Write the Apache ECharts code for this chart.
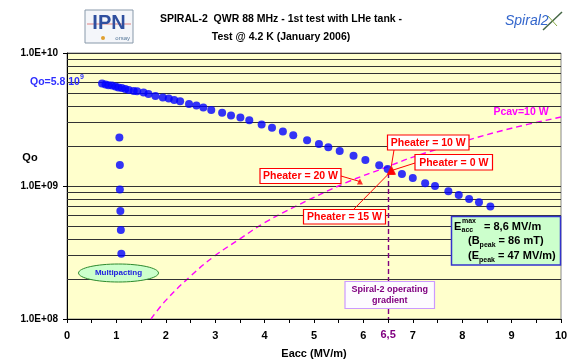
<!DOCTYPE html>
<html>
<head>
<meta charset="utf-8">
<script src="https://cdn.jsdelivr.net/npm/echarts@6/dist/echarts.min.js"></script>
<style>
  html, body { margin: 0; background: #fff; }
  #chart { width: 571px; height: 359px; }
</style>
</head>
<body>
<div id="chart"></div>
<script>
(() => {
  "use strict";

  // Qo vs Eacc, main curve
  const eaccValues = [0.71, 0.78, 0.84, 0.91, 0.98, 1.04, 1.11, 1.18, 1.25, 1.35, 1.42, 1.55, 1.65, 1.79, 1.94,
    2.06, 2.17, 2.29, 2.47, 2.62, 2.76, 2.92, 3.14, 3.32, 3.51, 3.69, 3.94, 4.15, 4.37, 4.58, 4.86, 5.10,
    5.29, 5.52, 5.80, 6.04, 6.32, 6.49, 6.78, 7.00, 7.25, 7.45, 7.72, 7.93, 8.14, 8.34, 8.57];
  const qoValues = [5.89e9, 5.79e9, 5.72e9, 5.69e9, 5.60e9, 5.50e9, 5.46e9, 5.37e9, 5.28e9, 5.19e9, 5.16e9,
    5.05e9, 4.92e9, 4.76e9, 4.63e9, 4.55e9, 4.44e9, 4.34e9, 4.14e9, 4.03e9, 3.90e9, 3.73e9, 3.55e9, 3.39e9,
    3.28e9, 3.12e9, 2.90e9, 2.74e9, 2.57e9, 2.41e9, 2.21e9, 2.07e9, 1.96e9, 1.83e9, 1.69e9, 1.57e9, 1.43e9,
    1.34e9, 1.23e9, 1.15e9, 1.05e9, 1.00e9, 9.14e8, 8.56e8, 7.99e8, 7.56e8, 7.02e8];

  // multipacting barrier points near 1 MV/m
  const multipactEacc = [1.06, 1.07, 1.07, 1.08, 1.09, 1.10];
  const multipactQo = [2.32e9, 1.44e9, 9.4e8, 6.5e8, 4.66e8, 3.1e8];

  // Pcav = 10 W iso-power curve
  const pcavEacc = [1.7, 2, 2.5, 3, 3.5, 4, 4.65, 5.65, 6.5, 7, 8, 9, 10];
  const pcavQo = [1.0e8, 1.38e8, 2.1e8, 3.0e8, 4.0e8, 5.3e8, 7.1e8, 1.06e9, 1.4e9, 1.65e9, 2.15e9, 2.72e9, 3.3e9];

  // Pheater measurement points
  const heaterLabels = ["Pheater = 20 W", "Pheater = 10 W", "Pheater = 0 W", "Pheater = 15 W"];
  const heaterEacc = [5.93, 6.55, 6.58, 6.57];
  const heaterQo = [1.08e9, 1.30e9, 1.31e9, 1.30e9];

  const operatingEacc = 6.5;
  const operatingTopQo = 1.25e9;
  const minorGridQo = [2e8, 3e8, 4e8, 5e8, 6e8, 7e8, 8e8, 9e8, 2e9, 3e9, 4e9, 5e9, 6e9, 7e9, 8e9, 9e9];

  const font = "Liberation Sans, Arial, sans-serif";
  const chart = echarts.init(document.getElementById("chart"), null, { renderer: "canvas" });

  const zip = (xs, ys) => xs.map((x, i) => [x, ys[i]]);
  const expLabel = (v) => `1.0E+${String(Math.round(Math.log10(v))).padStart(2, "0")}`;

  chart.setOption({
    animation: false,
    backgroundColor: "#fff",
    grid: {
      left: 67, right: 10, top: 53, bottom: 40,
      outerBoundsMode: "none",
      show: true, backgroundColor: "#FFFFCC", borderColor: "#888", borderWidth: 1,
    },
    xAxis: {
      type: "value", min: 0, max: 10, interval: 0.5,
      name: "Eacc (MV/m)", nameLocation: "middle", nameGap: 29,
      nameTextStyle: { color: "#000", fontWeight: "bold", fontSize: 11, fontFamily: font },
      axisLine: { onZero: false, lineStyle: { color: "#000", width: 1 } },
      axisTick: { length: 4, lineStyle: { color: "#000" } },
      axisLabel: {
        color: "#000", fontWeight: "bold", fontSize: 11, fontFamily: font, margin: 11,
        formatter: (v) => (Number.isInteger(v) ? String(v) : ""),
      },
      splitLine: { show: false },
    },
    yAxis: {
      type: "log", logBase: 10, min: 1e8, max: 1e10,
      axisLine: { show: true, lineStyle: { color: "#000", width: 1 } },
      axisTick: { show: true, length: 4, lineStyle: { color: "#000" } },
      axisLabel: { color: "#000", fontWeight: "bold", fontSize: 10, fontFamily: font, margin: 9, formatter: expLabel },
      splitLine: { show: true, lineStyle: { color: "#333", width: 1 } },
    },
    series: [
      {
        name: "grid",
        type: "line",
        data: [],
        silent: true,
        z: 1,
        markLine: {
          silent: true, symbol: "none", label: { show: false },
          lineStyle: { color: "#333", width: 1, type: "solid" },
          data: minorGridQo.map((v) => ({ yAxis: v })),
        },
      },
      {
        name: "Pcav",
        type: "line",
        smooth: 0.4,
        showSymbol: false,
        silent: true,
        z: 2,
        lineStyle: { color: "#FF00FF", width: 1.4, type: [6, 4] },
        data: zip(pcavEacc, pcavQo),
        markLine: {
          silent: true, symbol: "none",
          lineStyle: { color: "#800080", width: 1.4, type: [5, 3] },
          label: {
            show: true, position: "end", distance: 10, formatter: "6,5",
            color: "#800080", fontWeight: "bold", fontSize: 11, fontFamily: font,
          },
          data: [[{ coord: [operatingEacc, operatingTopQo] }, { coord: [operatingEacc, 1e8] }]],
        },
      },
      {
        name: "Qo",
        type: "scatter",
        symbol: "circle",
        symbolSize: 8,
        itemStyle: { color: "#0000FF" },
        z: 5,
        data: zip(eaccValues, qoValues).concat(zip(multipactEacc, multipactQo)),
      },
      {
        name: "Pheater",
        type: "scatter",
        symbol: "triangle",
        symbolSize: (val, p) => (p.dataIndex === 0 ? 6 : 8),
        itemStyle: { color: "#FF0000" },
        z: 6,
        data: zip(heaterEacc, heaterQo),
      },
    ],
  });

  // annotation boxes and arrows
  const boxText = (x, y, w, h, text, color, border, fill, size) => [
    { type: "rect", z: 30, shape: { x, y, width: w, height: h }, style: { fill, stroke: border, lineWidth: 1.2 } },
    {
      type: "text", z: 31, style: {
        x: x + w / 2, y: y + h / 2 + 0.5, text, align: "center", verticalAlign: "middle",
        fill: color, font: `bold ${size}px ${font}`, lineHeight: size + 2,
      },
    },
  ];

  const heaterBoxes = [
    { x: 260, y: 168.5, w: 81, h: 15, ax: 341, ay: 176 },
    { x: 387.5, y: 135, w: 81.5, h: 15, ax: 394, ay: 150 },
    { x: 415, y: 154.5, w: 77.5, h: 15.5, ax: 415, ay: 163 },
    { x: 303.5, y: 209.5, w: 82, h: 14.5, ax: 353.5, ay: 209.5 },
  ];

  const graphics = [];
  heaterBoxes.forEach((b, i) => {
    const [px, py] = chart.convertToPixel({ gridIndex: 0 }, [heaterEacc[i], heaterQo[i]]);
    graphics.push({
      type: "line", z: 29,
      shape: { x1: b.ax, y1: b.ay, x2: px, y2: py },
      style: { stroke: "#FF0000", lineWidth: 1 },
    });
    graphics.push(...boxText(b.x, b.y, b.w, b.h, heaterLabels[i], "#FF0000", "#FF0000", "#fff", 10.5));
  });

  graphics.push(
    // title
    {
      type: "text", z: 30,
      style: {
        x: 281, y: 10, align: "center", verticalAlign: "top", fill: "#000",
        text: "SPIRAL-2  QWR 88 MHz - 1st test with LHe tank -\nTest @ 4.2 K (January 2006)",
        font: `bold 10.5px ${font}`, lineHeight: 18,
      },
    },
    // IPN logo
    { type: "rect", z: 30, shape: { x: 85, y: 10, width: 48, height: 33 }, style: { fill: "#F4F6FA", stroke: "#8899AA", lineWidth: 1 } },
    { type: "line", z: 30, shape: { x1: 87, y1: 24, x2: 131, y2: 24 }, style: { stroke: "#E08080", lineWidth: 1 } },
    { type: "text", z: 31, style: { x: 109, y: 13, align: "center", text: "IPN", fill: "#2F4F9F", font: `bold 20px ${font}` } },
    { type: "text", z: 31, style: { x: 130, y: 35, align: "right", text: "orsay", fill: "#557799", font: `6px ${font}` } },
    { type: "circle", z: 31, shape: { cx: 103, cy: 38, r: 2 }, style: { fill: "#E0A030" } },
    // Spiral2 logo
    { type: "text", z: 30, style: { x: 505, y: 14, text: "Spiral2", fill: "#3366CC", font: `italic 14px ${font}` } },
    { type: "line", z: 30, shape: { x1: 543, y1: 30, x2: 562, y2: 12 }, style: { stroke: "#446644", lineWidth: 1.5 } },
    { type: "line", z: 30, shape: { x1: 548, y1: 16, x2: 557, y2: 26 }, style: { stroke: "#88AA44", lineWidth: 1 } },
    // Qo labels
    {
      type: "text", z: 30,
      style: {
        x: 30, y: 82, verticalAlign: "middle",
        text: "{a|Qo=5.8 10}{s|9}",
        rich: {
          a: { fill: "#2F2FFF", font: `bold 10.5px ${font}`, lineHeight: 16 },
          s: { fill: "#2F2FFF", font: `bold 7px ${font}`, verticalAlign: "top" },
        },
      },
    },
    { type: "text", z: 30, style: { x: 30, y: 158, align: "center", verticalAlign: "middle", text: "Qo", fill: "#000", font: `bold 11px ${font}` } },
    { type: "text", z: 30, style: { x: 521, y: 112, align: "center", verticalAlign: "middle", text: "Pcav=10 W", fill: "#FF00FF", font: `bold 10.5px ${font}` } },
    // Multipacting
    { type: "ellipse", z: 30, shape: { cx: 118.5, cy: 273, rx: 40, ry: 9 }, style: { fill: "#CCFFCC", stroke: "#2E8B2E", lineWidth: 1 } },
    { type: "text", z: 31, style: { x: 118.5, y: 273, align: "center", verticalAlign: "middle", text: "Multipacting", fill: "#2020E0", font: `bold 8px ${font}` } },
    // operating gradient
    ...boxText(345, 281.5, 89.5, 27, "Spiral-2 operating\ngradient", "#800080", "#CC99FF", "#FDFBFF", 9),
    // Emax box
    { type: "rect", z: 30, shape: { x: 451.5, y: 216.5, width: 109, height: 48.5 }, style: { fill: "#CCFFCC", stroke: "#3333CC", lineWidth: 1.5 } },
    { type: "text", z: 31, style: { x: 454, y: 227, verticalAlign: "middle", text: "E", fill: "#000", font: `bold 11px ${font}` } },
    { type: "text", z: 31, style: { x: 462, y: 221.5, verticalAlign: "middle", text: "max", fill: "#000", font: `bold 7px ${font}` } },
    { type: "text", z: 31, style: { x: 461.5, y: 230, verticalAlign: "middle", text: "acc", fill: "#000", font: `bold 7px ${font}` } },
    { type: "text", z: 31, style: { x: 484, y: 226.5, verticalAlign: "middle", text: "= 8,6 MV/m", fill: "#000", font: `bold 11px ${font}` } },
    {
      type: "text", z: 31,
      style: {
        x: 468, y: 241, verticalAlign: "middle",
        text: "{n|(B}{b|peak}{n| = 86 mT)}",
        rich: {
          n: { fill: "#000", font: `bold 11px ${font}`, lineHeight: 16 },
          b: { fill: "#000", font: `bold 7px ${font}`, verticalAlign: "bottom" },
        },
      },
    },
    {
      type: "text", z: 31,
      style: {
        x: 468, y: 255.5, verticalAlign: "middle",
        text: "{n|(E}{b|peak}{n| = 47 MV/m)}",
        rich: {
          n: { fill: "#000", font: `bold 11px ${font}`, lineHeight: 16 },
          b: { fill: "#000", font: `bold 7px ${font}`, verticalAlign: "bottom" },
        },
      },
    },
  );

  chart.setOption({ graphic: graphics });
})();
</script>
</body>
</html>
